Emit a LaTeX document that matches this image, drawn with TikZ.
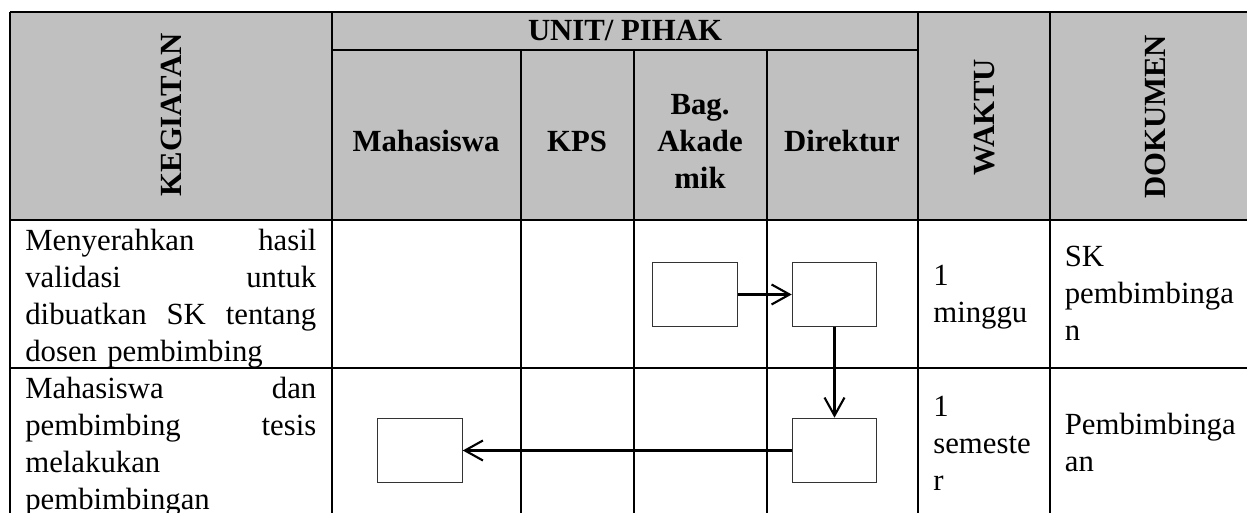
\documentclass[tikz,border=0pt]{standalone}
\usepackage{fontspec}
\setmainfont{Liberation Serif}
\usetikzlibrary{arrows.meta}
\definecolor{headgray}{HTML}{C0C0C0}
\begin{document}
\begin{tikzpicture}[
        grid/.style={line width=1.3pt},
        head/.style={font=\fontsize{17.5}{21}\selectfont\bfseries,
            align=center, inner sep=0pt},
        vhead/.style={head, rotate=90},
        cell/.style={anchor=base west, inner sep=0pt, align=left,
            font=\fontsize{17.5}{21}\selectfont},
        flowbox/.style={rectangle, draw=black!80, line width=0.6pt,
            minimum width=1.69cm, minimum height=1.29cm, fill=white},
        arrow/.style={-{Straight Barb[length=3.6mm, width=4mm]},
            line width=1.2pt}
      ]
      \useasboundingbox (0,0) rectangle (24.94,10.26);
      \fill[headgray] (0.2,5.86) rectangle (24.94,10.02);
      % table rules
      \draw[grid] (0.2,10.02) -- (24.94,10.02);
      \draw[grid] (6.64,9.26) -- (18.354,9.26);
      \draw[grid] (0.2,5.86) -- (24.94,5.86);
      \draw[grid] (0.2,2.90) -- (24.94,2.90);
      \foreach \x in {0.2, 6.64, 18.354, 21.0}
        \draw[grid] (\x,0) -- (\x,10.02);
      \foreach \x in {10.414, 12.68, 15.334}
        \draw[grid] (\x,0) -- (\x,9.26);
      % header
      \node[vhead] (kegiatan) at (3.43,7.96) {KEGIATAN};
      \node[head] (unit) at (12.5,9.64) {UNIT/ PIHAK};
      \node[head, anchor=base] (hmhs) at (8.52,7.22) {Mahasiswa};
      \node[head, anchor=base] (hkps) at (11.54,7.22) {KPS};
      \node[head, text width=2.6cm, anchor=base] (hakad) at (14.0,7.96)
      {Bag.\\Akade\\mik};
      \node[head, anchor=base] (hdir) at (16.84,7.22) {Direktur};
      \node[vhead] (waktu) at (19.7,7.92) {WAKTU};
      \node[vhead] (dokumen) at (23.1,7.92) {DOKUMEN};
      % row 1
      \node[cell, text width=5.82cm] (keg1) at (0.5,5.24)
      {Menyerahkan\hfill hasil\\validasi\hfill untuk\\
        dibuatkan\hfill SK\hfill tentang\\dosen pembimbing};
      \node[cell, text width=2.2cm] (wkt1) at (18.66,4.54) {1\\minggu};
      \node[cell, text width=3.5cm] (dok1) at (21.29,4.92)
      {SK\\pembimbinga\\n};
      % row 2
      \node[cell, text width=5.82cm] (keg2) at (0.5,2.28)
      {Mahasiswa\hfill dan\\pembimbing\hfill tesis\\
        melakukan\\pembimbingan};
      \node[cell, text width=2.2cm] (wkt2) at (18.66,1.92) {1\\semeste\\r};
      \node[cell, text width=3.5cm] (dok2) at (21.29,1.56)
      {Pembimbinga\\an};
      % flow
      \node[flowbox] (akad1) at (13.90,4.37) {};
      \node[flowbox] (dir1) at (16.69,4.37) {};
      \node[flowbox] (dir2) at (16.69,1.25) {};
      \node[flowbox] (mhs2) at (8.40,1.25) {};
      \draw[arrow] (akad1.east) -- (dir1.west);
      \draw[arrow] (dir1.south) -- (dir2.north);
      \draw[arrow] (dir2.west)  -- (mhs2.east);
    \end{tikzpicture}
\end{document}
